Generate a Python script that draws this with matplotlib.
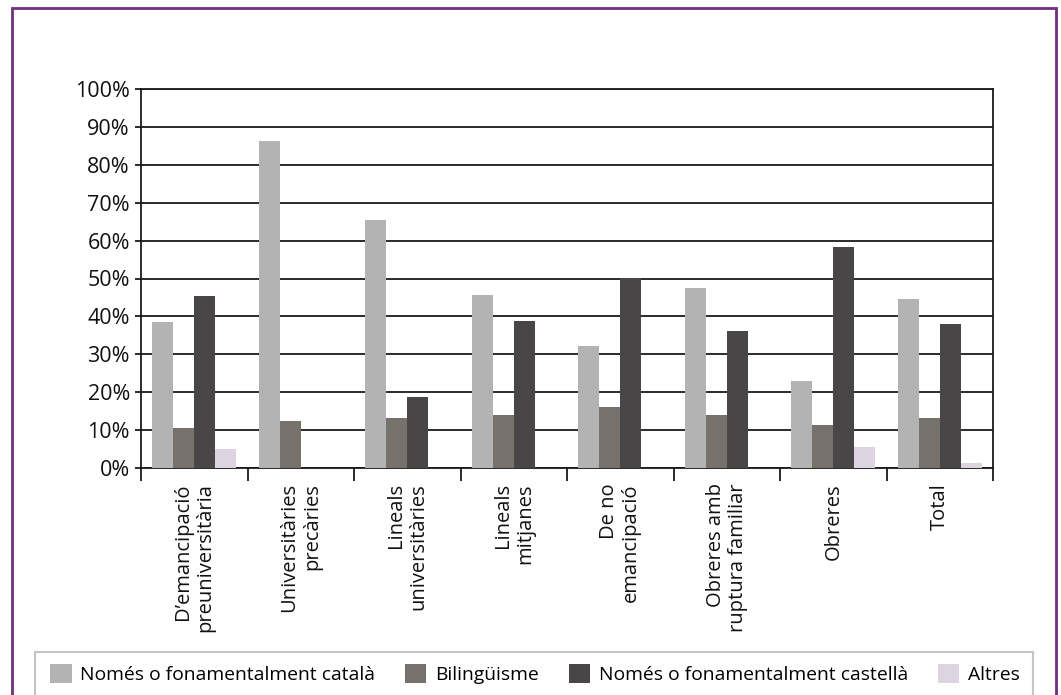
import matplotlib
matplotlib.use("Agg")
import matplotlib.pyplot as plt
import numpy as np
from matplotlib.patches import Rectangle
from matplotlib.ticker import FixedLocator, FuncFormatter

plt.rcParams['font.family'] = ['Open Sans', 'DejaVu Sans']

categories = [
    "D\u2019emancipació\npreuniversitària",
    "Universitàries\nprecàries",
    "Lineals\nuniversitàries",
    "Lineals\nmitjanes",
    "De no\nemancipació",
    "Obreres amb\nruptura familiar",
    "Obreres",
    "Total",
]
series_names = ["Només o fonamentalment català", "Bilingüisme",
                "Només o fonamentalment castellà", "Altres"]
catala = [38.5, 86.3, 65.4, 45.6, 32.1, 47.4, 22.9, 44.5]
bilinguisme = [10.5, 12.3, 13.1, 13.9, 16.0, 13.9, 11.3, 13.1]
castella = [45.3, 0, 18.7, 38.7, 50.1, 36.1, 58.3, 37.9]
altres = [4.9, 0, 0, 0, 0, 0, 5.5, 1.2]
colors = ["#b3b3b3", "#77716c", "#484646", "#ded3e1"]
yticks = [0, 10, 20, 30, 40, 50, 60, 70, 80, 90, 100]

fig = plt.figure(figsize=(10.61, 6.95), dpi=100)
ax = fig.add_axes([141/1061, 1-468/695, (993-141)/1061, (468-89)/695])

x = np.arange(len(categories))
bw = 0.197
data = [catala, bilinguisme, castella, altres]
for i, (vals, c, name) in enumerate(zip(data, colors, series_names)):
    ax.bar(x + (i - 1.5) * bw, vals, width=bw, color=c, label=name, zorder=3, linewidth=0)

ax.set_xlim(-0.5, len(categories) - 0.5)
ax.set_ylim(0, 100)
ax.set_yticks(yticks)
ax.yaxis.set_major_formatter(FuncFormatter(lambda v, p: f"{int(v)}%"))
ax.grid(axis='y', color='#1a1a1a', linewidth=1.3, zorder=1)
ax.set_axisbelow(True)
for s in ax.spines.values():
    s.set_color('#1a1a1a')
    s.set_linewidth(1.3)

ax.set_xticks(x)
ax.set_xticklabels(categories, rotation=90, fontsize=14.5, color='#111111', linespacing=1.15)
for lab in ax.get_xticklabels():
    lab.set_multialignment('right')
ax.tick_params(axis='x', which='major', length=0, pad=11)
ax.xaxis.set_minor_locator(FixedLocator(np.arange(-0.5, len(categories), 1.0)))
ax.tick_params(axis='x', which='minor', length=9, width=1.3, color='#1a1a1a', direction='out')
ax.tick_params(axis='y', length=4, width=1.3, color='#1a1a1a', labelsize=15.5, labelcolor='#111111', pad=4)

# Legend
handles, labels = ax.get_legend_handles_labels()
leg = fig.legend(handles, labels, loc='center', bbox_to_anchor=(535/1061, 1-674/695),
                 ncol=4, frameon=False, fontsize=13.9, handlelength=1.1, handleheight=1.1,
                 handletextpad=0.45, columnspacing=1.55, borderaxespad=0)

# Legend box
fig.patches.append(Rectangle((35/1061, -0.05), (1033-35)/1061, (1-652/695) + 0.05,
                             transform=fig.transFigure, fill=False, edgecolor='#c4c4c4',
                             linewidth=1.5, clip_on=False))
# Outer purple frame
fig.patches.append(Rectangle((12/1061, -0.05), (1056-12)/1061, (1-8/695) + 0.05,
                             transform=fig.transFigure, fill=False, edgecolor='#6e3080',
                             linewidth=2, clip_on=False))

fig.savefig("out.png", dpi=100)
